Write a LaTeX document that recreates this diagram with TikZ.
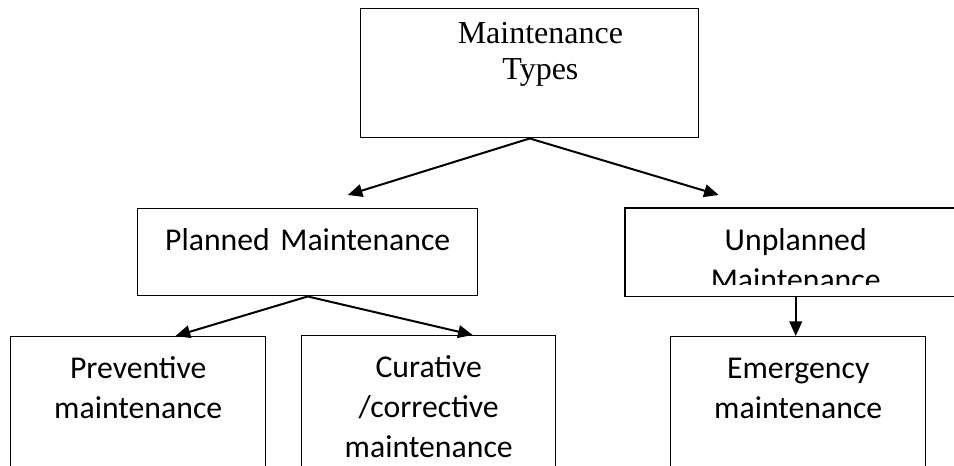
\documentclass[tikz,border=0pt]{standalone}
\usepackage{fontspec}
\setmainfont{Liberation Serif}
\newfontfamily\calibri{Carlito}
\usetikzlibrary{arrows.meta, positioning}
\tikzset{
  box/.style={draw, line width=1.1pt, anchor=north west, align=center, inner xsep=0pt},
  sansbox/.style={box, font=\calibri\fontsize{23.8pt}{30pt}\selectfont, inner ysep=14.5pt, text height=17pt},
  arr/.style={line width=1.5pt, -{Triangle[length=11pt,width=9.5pt]}}
}
\begin{document}
\begin{tikzpicture}
\useasboundingbox (0,0) rectangle (715.5pt,-349.5pt);
%top box
\node[box, font=\fontsize{24pt}{27pt}\selectfont, inner ysep=9.25pt, text height=17pt, text depth=61.25pt, text width=253.5pt] (types) at (270pt,-6pt) {\hspace*{16pt}Maintenance\\\hspace*{16pt}Types};
%second row
\node[sansbox, text depth=19.25pt, text width=255pt] (planned) at (102.75pt,-156pt) {Planned Maintenance};
\begin{scope}
\clip (468.75pt,-156pt) rectangle (740pt,-213.75pt);
\node[sansbox, draw=none, text depth=19.25pt, text width=255pt] (unplanned) at (468.75pt,-156pt) {Unplanned\\Maintenance};
\end{scope}
\draw[line width=1.1pt] (unplanned.north west) rectangle (unplanned.south east);
%third row
\node[sansbox, text depth=59pt, text width=191.25pt] (prevent) at (7.5pt,-252pt) {Preventive\\maintenance};
\node[sansbox, text depth=59pt, text width=190.5pt] (curative) at (225.75pt,-251.25pt) {Curative\\/corrective\\maintenance};
\node[sansbox, text depth=59pt, text width=191.25pt] (emergency) at (502.5pt,-252pt) {Emergency\\maintenance};
%arrows
\draw[arr] (types.south) -- ([shift={(30pt,9.75pt)}]planned.north);
\draw[arr] (types.south) -- ([shift={(-57.75pt,9.75pt)}]unplanned.north);
\draw[arr] (planned.south) -- ([xshift=28pt]prevent.north);
\draw[arr] (planned.south) -- ([xshift=33pt]curative.north);
\draw[arr] (unplanned.south) -- (unplanned.south |- emergency.north);
\end{tikzpicture}
\end{document}
